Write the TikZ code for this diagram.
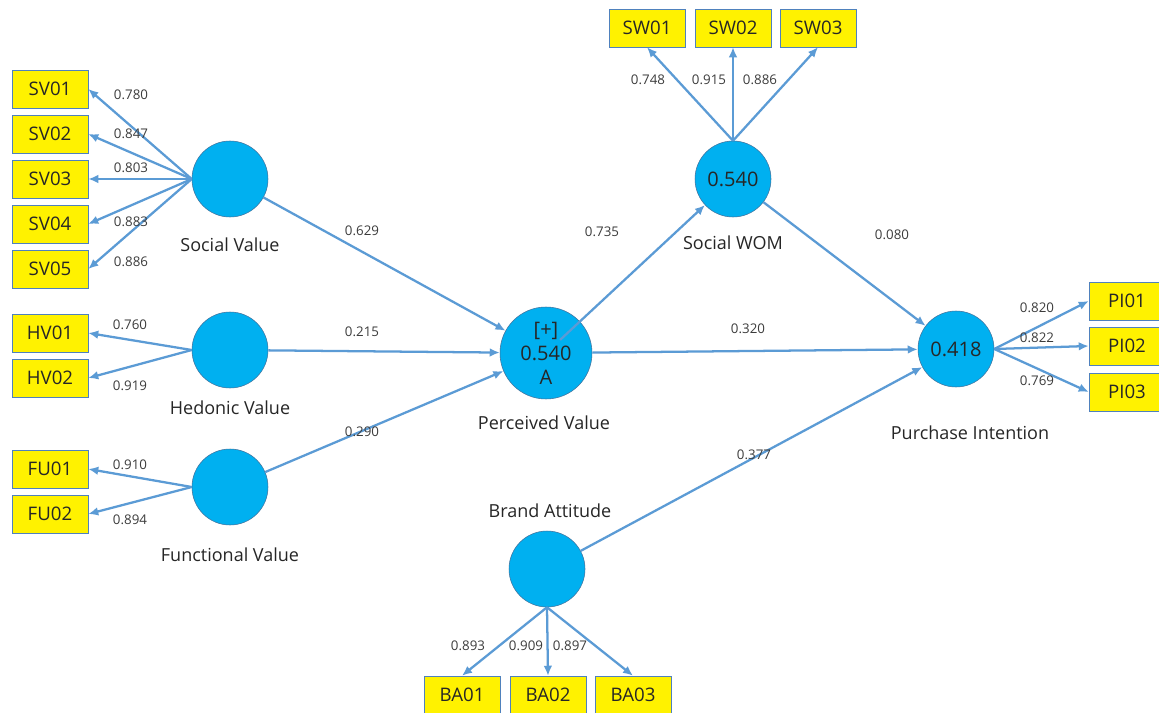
\documentclass[tikz,border=0pt]{standalone}
\usepackage{fontspec}
\setmainfont{Open Sans}
\usetikzlibrary{positioning,arrows.meta,calc}

\definecolor{linkblue}{HTML}{5B9BD5}
\definecolor{latentfill}{HTML}{00B0F0}
\definecolor{latentedge}{HTML}{41719C}
\definecolor{boxedge}{HTML}{4F81BD}
\definecolor{inktext}{HTML}{262626}

\tikzset{
  latent/.style={circle, draw=latentedge, fill=latentfill, minimum size=57pt,
    inner sep=0pt, text=inktext, font=\fontsize{15}{18}\selectfont, align=center},
  indicator/.style={rectangle, draw=boxedge, fill=yellow, minimum width=57pt,
    minimum height=28.5pt, inner sep=0pt, text=inktext, font=\fontsize{14}{15}\selectfont},
  coef/.style={inner sep=1pt, text=inktext!90, font=\fontsize{10}{11}\selectfont},
  caption/.style={inner sep=1pt, text=inktext, font=\fontsize{13.5}{15}\selectfont},
  relation/.style={draw=linkblue, line width=1.7pt, -{Latex[length=7.5pt,width=6.5pt]}},
  loading/.style={relation},
}

\begin{document}
\begin{tikzpicture}[x=0.75pt, y=-0.75pt]
    \fill[white] (0,0) rectangle (1159,713);
    \useasboundingbox (0,0) rectangle (1159,713);

    % latent variables
    \node [latent] (sv) at (230,179) {};
    \node [latent] (hv) at (230,350) {};
    \node [latent] (fu) at (230,487) {};
    \node [latent, minimum size=69pt] (pv) at (546,353) {[+]\\0.540\\A};
    \node [latent] (sw) at (733,179) {0.540};
    \node [latent] (pi) at (956,349) {0.418};
    \node [latent] (ba) at (547,569) {};

    \node [caption] (svname) at (230,245) {Social Value};
    \node [caption] (hvname) at (230,408) {Hedonic Value};
    \node [caption] (funame) at (230,555) {Functional Value};
    \node [caption] (pvname) at (544,423) {Perceived Value};
    \node [caption] (swname) at (733,243) {Social WOM};
    \node [caption] (piname) at (970,433) {Purchase Intention};
    \node [caption] (baname) at (550,511) {Brand Attitude};

    % indicators
    \node [indicator] (sv1) at (50,89) {SV01};
    \node [indicator] (sv2) at (50,134) {SV02};
    \node [indicator] (sv3) at (50,179) {SV03};
    \node [indicator] (sv4) at (50,224) {SV04};
    \node [indicator] (sv5) at (50,269) {SV05};
    \node [indicator] (hv1) at (50,333) {HV01};
    \node [indicator] (hv2) at (50,378) {HV02};
    \node [indicator] (fu1) at (50,469) {FU01};
    \node [indicator] (fu2) at (50,514) {FU02};
    \node [indicator] (sw1) at (647,28) {SW01};
    \node [indicator] (sw2) at (733,28) {SW02};
    \node [indicator] (sw3) at (818,28) {SW03};
    \node [indicator] (pi1) at (1127,301) {PI01};
    \node [indicator] (pi2) at (1127,346) {PI02};
    \node [indicator] (pi3) at (1127,392) {PI03};
    \node [indicator] (ba1) at (462,695) {BA01};
    \node [indicator] (ba2) at (548,695) {BA02};
    \node [indicator] (ba3) at (633,695) {BA03};

    % outer loadings
    \draw [loading] (sv.west) -- (sv1.east);
    \draw [loading] (sv.west) -- (sv2.east);
    \draw [loading] (sv.west) -- (sv3.east);
    \draw [loading] (sv.west) -- (sv4.east);
    \draw [loading] (sv.west) -- (sv5.east);
    \draw [loading] (hv.west) -- (hv1.east);
    \draw [loading] (hv.west) -- (hv2.east);
    \draw [loading] (fu.west) -- (fu1.east);
    \draw [loading] (fu.west) -- (fu2.east);
    \draw [loading] (sw.north) -- (sw1.south);
    \draw [loading] (sw.north) -- (sw2.south);
    \draw [loading] (sw.north) -- (sw3.south);
    \draw [loading] (pi.east) -- (pi1.west);
    \draw [loading] (pi.east) -- (pi2.west);
    \draw [loading] (pi.east) -- (pi3.west);
    \draw [loading] (ba.south) -- (ba1.north);
    \draw [loading] (ba.south) -- (ba2.north);
    \draw [loading] (ba.south) -- (ba3.north);

    % inner paths
    \draw [relation] (sv) -- (pv);
    \draw [relation] (hv) -- (pv);
    \draw [relation] (fu) -- (pv);
    \draw [relation] ($(pv)!0.075!(sw)$) -- (sw);
    \draw [relation] (sw) -- (pi);
    \draw [relation] (pv) -- (pi);
    \draw [relation] (ba) -- (pi);

    % coefficients
    \node [coef] (csv1) at (131,95) {0.780};
    \node [coef] (csv2) at (131,134) {0.847};
    \node [coef] (csv3) at (131,168) {0.803};
    \node [coef] (csv4) at (131,222) {0.883};
    \node [coef] (csv5) at (131,262) {0.886};
    \node [coef] (chv1) at (130,325) {0.760};
    \node [coef] (chv2) at (130,386) {0.919};
    \node [coef] (cfu1) at (130,465) {0.910};
    \node [coef] (cfu2) at (130,520) {0.894};
    \node [coef] (csw1) at (648,80) {0.748};
    \node [coef] (csw2) at (709,80) {0.915};
    \node [coef] (csw3) at (760,80) {0.886};
    \node [coef] (cpi1) at (1037,308) {0.820};
    \node [coef] (cpi2) at (1037,338) {0.822};
    \node [coef] (cpi3) at (1037,381) {0.769};
    \node [coef] (cba1) at (468,646) {0.893};
    \node [coef] (cba2) at (526,646) {0.909};
    \node [coef] (cba3) at (570,646) {0.897};
    \node [coef] (csvpv) at (362,231) {0.629};
    \node [coef] (chvpv) at (362,332) {0.215};
    \node [coef] (cfupv) at (362,432) {0.290};
    \node [coef] (cpvsw) at (602,232) {0.735};
    \node [coef] (cpvpi) at (748,329) {0.320};
    \node [coef] (cswpi) at (892,235) {0.080};
    \node [coef] (cbapi) at (754,455) {0.377};
\end{tikzpicture}
\end{document}
